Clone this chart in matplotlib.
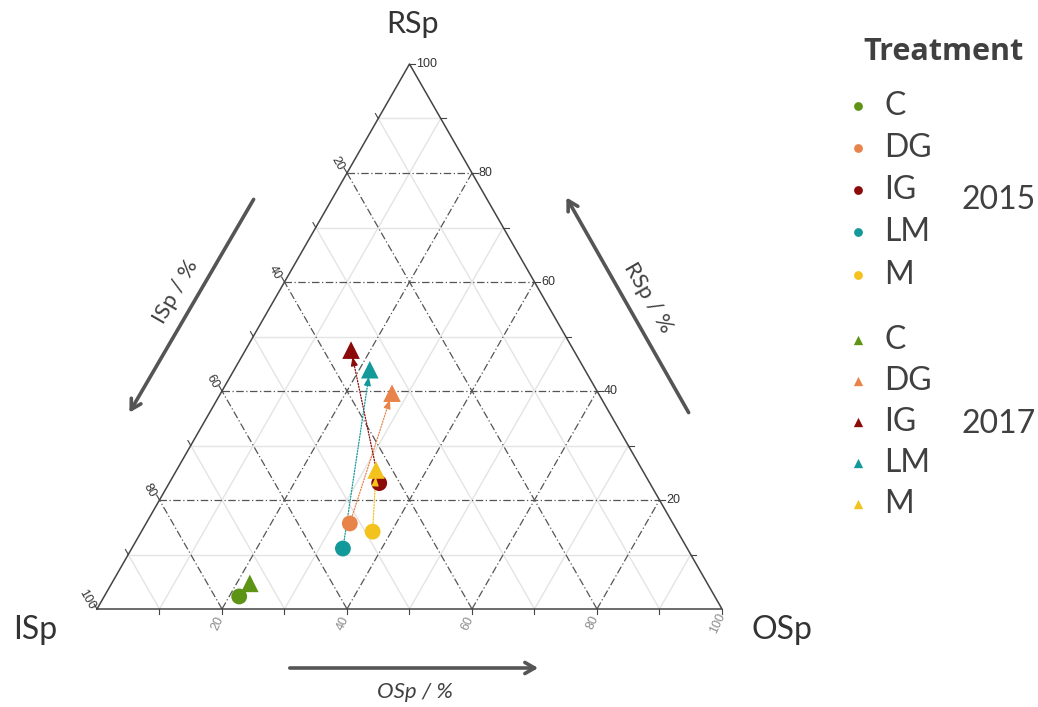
import numpy as np
import matplotlib
matplotlib.use("Agg")
import matplotlib.pyplot as plt

# ---------------- data ----------------
treatments = ["C", "DG", "IG", "LM", "M"]
colors = ["#5e9416", "#e8844a", "#8b0a0a", "#14999a", "#f4c21c"]
# 2015 (circles): OSp %, RSp %  (ISp = 100 - OSp - RSp)
osp_2015 = [21.6, 32.6, 33.6, 33.8, 37.0]
rsp_2015 = [2.3, 15.7, 23.1, 11.1, 14.2]
# 2017 (triangles)
osp_2017 = [22.1, 27.4, 16.9, 21.7, 31.9]
rsp_2017 = [4.7, 39.6, 47.5, 43.9, 25.5]
tick_values = [20, 40, 60, 80, 100]

S3 = np.sqrt(3) / 2


def tern(osp, rsp):
    osp = np.asarray(osp, float)
    rsp = np.asarray(rsp, float)
    return osp + rsp / 2, rsp * S3


W, H = 1038, 707
fig = plt.figure(figsize=(W / 100, H / 100), dpi=100)
ax = fig.add_axes([0, 0, 1, 1])
# pixel mapping: px = 97 + 6.25*X ; py = 609 - 6.293*Y
sx, sy = 6.25, 5.45 / S3
ax.set_xlim(-97 / sx, (W - 97) / sx)
ax.set_ylim((609 - H) / sy, 609 / sy)
ax.axis("off")


def P(px, py):
    return px / W, 1 - py / H


LAB = "Lato"
NUM = ["Liberation Sans Narrow", "Liberation Sans"]
TXT = "#404040"

# ---------------- grid ----------------
for v in range(10, 100, 10):
    major = v % 20 == 0
    kw = dict(color="#555555", lw=0.9, ls=(0, (6, 2, 1, 2)), zorder=1.5) if major \
        else dict(color="#e4e4e4", lw=1.0, zorder=1)
    x, y = tern([0, 100 - v], [v, v]); ax.plot(x, y, **kw)          # RSp = v
    x, y = tern([v, v], [0, 100 - v]); ax.plot(x, y, **kw)          # OSp = v
    x, y = tern([100 - v, 0], [0, 100 - v]); ax.plot(x, y, **kw)    # ISp = v

# triangle frame
x, y = tern([0, 100, 0, 0], [0, 0, 100, 0])
ax.plot(x, y, color="#444444", lw=1.1, zorder=2)

# small tick marks
for v in range(10, 101, 10):
    x, y = tern([v], [0]); ax.plot([x[0], x[0]], [0, -0.8], color="#444", lw=0.8)
    x, y = tern([100 - v], [v]); ax.plot([x[0], x[0] + 0.9], [y[0], y[0]], color="#444", lw=0.8)
    x, y = tern([0], [100 - v]); ax.plot([x[0] - 0.45, x[0]], [y[0] + 0.78, y[0]], color="#444", lw=0.8)

# tick labels
for v in tick_values:
    x, y = tern([100 - v], [v])
    ax.annotate(str(v), (x[0], y[0]), xytext=(5, 0), textcoords="offset points",
                ha="left", va="center", fontsize=9, family=NUM, color="#333333")
    x, y = tern([0], [100 - v])
    ax.annotate(str(v), (x[0], y[0]), xytext=(-7, 7), textcoords="offset points",
                ha="center", va="center", fontsize=9, family=NUM, color="#333333",
                rotation=-60)
    x, y = tern([v], [0])
    ax.annotate(str(v), (x[0], y[0]), xytext=(-3, -10), textcoords="offset points",
                ha="center", va="center", fontsize=9, family=NUM, color="#8a8a8a",
                rotation=65)

# ---------------- data marks ----------------
x15, y15 = tern(osp_2015, rsp_2015)
x17, y17 = tern(osp_2017, rsp_2017)
for i, c in enumerate(colors):
    ax.annotate("", xy=(x17[i], y17[i]), xytext=(x15[i], y15[i]),
                arrowprops=dict(arrowstyle="-", color=c, lw=0.9, ls=(0, (1, 1.3)),
                                shrinkA=0, shrinkB=6), zorder=2.5)
ax.scatter(x15, y15, s=130, c=colors, marker="o", zorder=3, linewidths=0)
for i, c in enumerate(colors):
    dx, dy = x17[i] - x15[i], y17[i] - y15[i]
    L = np.hypot(dx * sx, dy * sy)
    if L < 20:
        continue
    f0 = 1 - 14 / L
    ax.annotate("", xy=(x17[i], y17[i]),
                xytext=(x15[i] + f0 * dx, y15[i] + f0 * dy),
                arrowprops=dict(arrowstyle="-|>,head_length=0.5,head_width=0.2",
                                color=c, lw=1.0, shrinkA=0, shrinkB=5), zorder=4)
ax.scatter(x17, y17, s=160, c=colors, marker="^", zorder=5, linewidths=0)

# ---------------- vertex labels ----------------
ax.text(*P(413, 24), "RSp", transform=ax.transAxes, ha="center", va="center",
        fontsize=22, family=LAB, color="#333333")
ax.text(*P(35, 630), "ISp", transform=ax.transAxes, ha="center", va="center",
        fontsize=23, family=LAB, color="#333333")
ax.text(*P(782, 630), "OSp", transform=ax.transAxes, ha="center", va="center",
        fontsize=23, family=LAB, color="#333333")

# ---------------- axis arrows ----------------
arrow_kw = dict(arrowstyle="->,head_length=0.7,head_width=0.4", color="#555555", lw=2.6)
ax.annotate("", xy=P(128, 415), xytext=P(255, 197), xycoords="axes fraction",
            textcoords="axes fraction", arrowprops=arrow_kw)
ax.annotate("", xy=P(565, 195), xytext=P(690, 415), xycoords="axes fraction",
            textcoords="axes fraction", arrowprops=arrow_kw)
ax.annotate("", xy=P(541, 668), xytext=P(287, 668), xycoords="axes fraction",
            textcoords="axes fraction", arrowprops=arrow_kw)
ax.text(*P(176, 292), "ISp / %", transform=ax.transAxes, ha="center", va="center",
        fontsize=16, family=LAB, color=TXT, rotation=60)
ax.text(*P(648, 298), "RSp / %", transform=ax.transAxes, ha="center", va="center",
        fontsize=16, family=LAB, color=TXT, rotation=-60)
ax.text(*P(415, 692), "OSp / %", transform=ax.transAxes, ha="center", va="center",
        fontsize=16, family=LAB, color=TXT, style="italic")

# ---------------- legend ----------------
ax.text(*P(944, 52), "Treatment", transform=ax.transAxes, ha="center", va="center",
        fontsize=22, family="Open Sans", weight="bold", color=TXT)
ys15 = [106, 148, 190, 232, 275]
ys17 = [340, 381, 422, 463, 504]
for name, c, ya, yb in zip(treatments, colors, ys15, ys17):
    ax.scatter(*P(858, ya), s=40, color=c, marker="o", transform=ax.transAxes, linewidths=0)
    ax.text(*P(884, ya), name, transform=ax.transAxes, ha="left", va="center",
            fontsize=23, family=LAB, color=TXT)
    ax.scatter(*P(858, yb), s=45, color=c, marker="^", transform=ax.transAxes, linewidths=0)
    ax.text(*P(884, yb), name, transform=ax.transAxes, ha="left", va="center",
            fontsize=23, family=LAB, color=TXT)
ax.text(*P(999, 200), "2015", transform=ax.transAxes, ha="center", va="center",
        fontsize=23, family=LAB, color=TXT)
ax.text(*P(999, 424), "2017", transform=ax.transAxes, ha="center", va="center",
        fontsize=23, family=LAB, color=TXT)

fig.savefig("out.png", dpi=100)
